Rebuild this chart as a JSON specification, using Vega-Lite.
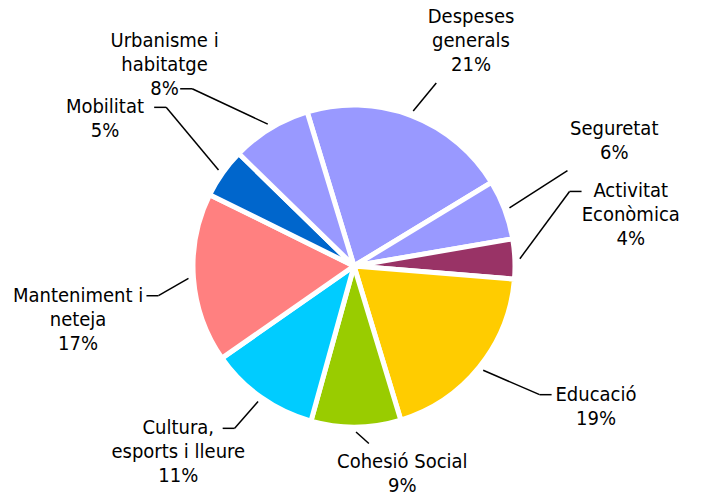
{
  "$schema": "https://vega.github.io/schema/vega-lite/v6.json",
  "width": 715,
  "height": 499,
  "autosize": {"type": "fit", "contains": "padding"},
  "padding": 0,
  "background": "white",
  "view": {"stroke": null},
  "data": {"values": [
    {"cat": "Despeses\ngenerals", "v": 21},
    {"cat": "Seguretat", "v": 6},
    {"cat": "Activitat\nEconòmica", "v": 4},
    {"cat": "Educació", "v": 19},
    {"cat": "Cohesió Social", "v": 9},
    {"cat": "Cultura,\nesports i lleure", "v": 11},
    {"cat": "Manteniment i\nneteja", "v": 17},
    {"cat": "Mobilitat", "v": 5},
    {"cat": "Urbanisme i\nhabitatge", "v": 8}
  ]},
  "transform": [
    {"window": [{"op": "sum", "field": "v", "as": "c1"}], "frame": [null, 0]},
    {"calculate": "datum.c1 - datum.v", "as": "c0"},
    {"calculate": "-0.295 + PI * (datum.c0 + datum.c1) / 100", "as": "m"},
    {"calculate": "datum.m - 0.07", "as": "mm"},
    {"calculate": "datum.cat + '\\n' + datum.v + '%'", "as": "lbl"},
    {"calculate": "sin(datum.mm)", "as": "sx"},
    {"calculate": "cos(datum.mm)", "as": "cx"},
    {"calculate": "(datum.sx < 0 ? -1 : 1) * 278 * pow(abs(datum.sx), 0.7)", "as": "lx"},
    {"calculate": "(datum.cx < 0 ? -208 : 232) * pow(abs(datum.cx), 0.7)", "as": "ly"},
    {"calculate": "166 * sin(datum.m)", "as": "ax"},
    {"calculate": "166 * cos(datum.m)", "as": "ay"},
    {"calculate": "datum.lx - datum.ax", "as": "dx"},
    {"calculate": "datum.ly - datum.ay", "as": "dy"},
    {"calculate": "split(datum.lbl, '\\n')", "as": "lines"},
    {"calculate": "length(datum.lines)", "as": "n"},
    {"calculate": "datum.ly + (datum.n - 1) * 12", "as": "ty"},
    {"calculate": "datum.n * 12 + 6", "as": "hh"},
    {"calculate": "datum.dy > 0.4 * abs(datum.dx) && datum.n >= 3 ? datum.n - 1 : 0", "as": "k"},
    {"calculate": "length(datum.lines[datum.k]) * 4.8 + 6", "as": "hw"},
    {"calculate": "54 / max(abs(datum.dx), 0.001)", "as": "sw"},
    {"calculate": "datum.hh / max(abs(datum.dy), 0.001)", "as": "sh"},
    {"calculate": "datum.sw <= datum.sh ? datum.lx - (datum.dx < 0 ? -1 : 1) * datum.hw : datum.lx - datum.dx * datum.sh", "as": "bx"},
    {"calculate": "datum.sw <= datum.sh ? datum.ty - datum.k * 24 : datum.ly - datum.dy * datum.sh", "as": "by"},
    {"calculate": "datum.sw <= datum.sh ? datum.bx - (datum.dx < 0 ? -12 : 12) : datum.bx", "as": "ex"}
  ],
  "layer": [
    {
      "mark": {"type": "arc", "outerRadius": 161, "stroke": "white", "strokeWidth": 5, "strokeJoin": "round"},
      "encoding": {
        "theta": {"field": "c0", "type": "quantitative", "stack": null, "scale": {"domain": [0, 100], "range": [-0.295, 5.9882]}},
        "theta2": {"field": "c1"},
        "x": {"datum": 0, "type": "quantitative", "scale": {"domain": [-354, 361], "nice": false, "zero": false}, "axis": null},
        "y": {"datum": 0, "type": "quantitative", "scale": {"domain": [-233, 266], "nice": false, "zero": false}, "axis": null},
        "color": {
          "field": "cat", "type": "nominal", "legend": null,
          "scale": {
            "domain": ["Despeses\ngenerals", "Seguretat", "Activitat\nEconòmica", "Educació", "Cohesió Social", "Cultura,\nesports i lleure", "Manteniment i\nneteja", "Mobilitat", "Urbanisme i\nhabitatge"],
            "range": ["#9999FF", "#9999FF", "#993366", "#FFCC00", "#99CC00", "#00CCFF", "#FF8080", "#0066CC", "#9999FF"]
          }
        }
      }
    },
    {
      "mark": {"type": "rule", "color": "black", "strokeWidth": 1.5},
      "encoding": {
        "x": {"field": "ax", "type": "quantitative"},
        "y": {"field": "ay", "type": "quantitative"},
        "x2": {"field": "ex"},
        "y2": {"field": "by"}
      }
    },
    {
      "mark": {"type": "rule", "color": "black", "strokeWidth": 1.5},
      "encoding": {
        "x": {"field": "ex", "type": "quantitative"},
        "y": {"field": "by", "type": "quantitative"},
        "x2": {"field": "bx"},
        "y2": {"field": "by"}
      }
    },
    {
      "mark": {"type": "text", "font": "DejaVu Sans Condensed, DejaVu Sans, sans-serif", "fontSize": 20, "lineBreak": "\n", "lineHeight": 24, "align": "center", "baseline": "middle", "color": "black"},
      "encoding": {
        "x": {"field": "lx", "type": "quantitative"},
        "y": {"field": "ty", "type": "quantitative"},
        "text": {"field": "lbl"}
      }
    }
  ]
}
